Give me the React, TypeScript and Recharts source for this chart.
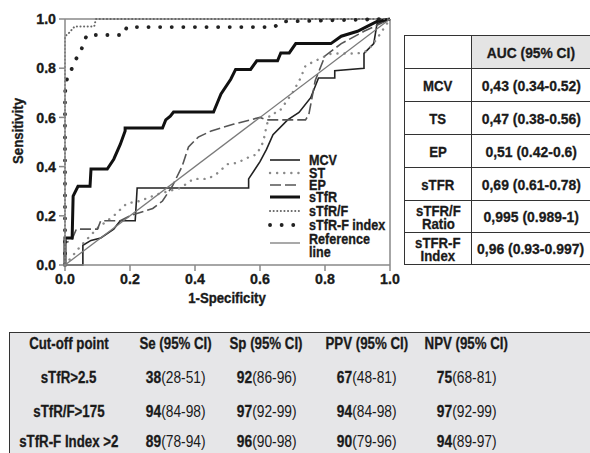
import React from 'react';
import { LineChart, Line, XAxis, YAxis, ReferenceLine } from 'recharts';

// ROC curve points [1-specificity, sensitivity]
const mcvPoints = [
  [0, 0], [0.055, 0], [0.055, 0.08], [0.08, 0.1], [0.11, 0.11], [0.15, 0.146], [0.17, 0.18],
  [0.216, 0.18], [0.222, 0.313], [0.565, 0.313], [0.565, 0.35], [0.6, 0.42], [0.62, 0.47],
  [0.64, 0.53], [0.685, 0.59], [0.72, 0.62], [0.756, 0.68], [0.78, 0.76], [0.83, 0.76],
  [0.83, 0.79], [0.92, 0.8], [0.92, 0.86], [0.95, 0.9], [0.96, 0.98], [1, 1],
];
const stPoints = [
  [0, 0], [0.05, 0.08], [0.1, 0.15], [0.15, 0.2], [0.19, 0.25], [0.23, 0.26], [0.29, 0.29],
  [0.355, 0.313], [0.395, 0.35], [0.44, 0.35], [0.47, 0.374], [0.5, 0.41], [0.53, 0.415],
  [0.56, 0.435], [0.59, 0.45], [0.61, 0.5], [0.62, 0.565], [0.63, 0.61], [0.66, 0.625],
  [0.7, 0.7], [0.725, 0.76], [0.74, 0.81], [0.77, 0.83], [0.82, 0.86], [0.9, 0.86],
  [0.93, 0.87], [0.96, 0.92], [1, 1],
];
const epPoints = [
  [0, 0], [0, 0.09], [0.02, 0.1], [0.035, 0.146], [0.1, 0.146], [0.11, 0.18], [0.17, 0.18],
  [0.2, 0.2], [0.27, 0.23], [0.3, 0.26], [0.33, 0.32], [0.36, 0.4], [0.38, 0.48], [0.41, 0.52],
  [0.45, 0.545], [0.52, 0.573], [0.6, 0.6], [0.62, 0.59], [0.74, 0.59], [0.75, 0.61],
  [0.77, 0.75], [0.8, 0.85], [0.85, 0.9], [0.92, 0.95], [1, 1],
];
const stfrPoints = [
  [0, 0], [0, 0.11], [0.022, 0.11], [0.025, 0.28], [0.04, 0.32], [0.077, 0.32], [0.08, 0.39],
  [0.13, 0.39], [0.15, 0.43], [0.17, 0.49], [0.185, 0.545], [0.185, 0.557], [0.3, 0.557],
  [0.31, 0.59], [0.324, 0.605], [0.334, 0.622], [0.457, 0.622], [0.48, 0.695], [0.51, 0.755],
  [0.525, 0.795], [0.571, 0.795], [0.59, 0.83], [0.654, 0.83], [0.664, 0.862], [0.69, 0.862],
  [0.71, 0.9], [0.818, 0.9], [0.85, 0.93], [0.9, 0.95], [0.93, 0.97], [0.96, 0.99], [1, 1],
];
const stfrRatioPoints = [
  [0, 0], [0, 0.93], [0.01, 0.94], [0.03, 0.97], [0.09, 0.97], [0.095, 1], [1, 1],
];
const stfrIndexPoints = [
  [0, 0], [0, 0.7], [0.006, 0.755], [0.02, 0.795], [0.03, 0.83], [0.046, 0.86], [0.057, 0.9],
  [0.067, 0.935], [0.18, 0.935], [0.19, 0.967], [0.643, 0.967], [0.67, 0.99], [1, 1],
];
const referencePoints = [[0, 0], [1, 1]];

const axisTicks = [0, 0.2, 0.4, 0.6, 0.8, 1];

// AUC table
const aucLabels = ['MCV', 'TS', 'EP', 'sTFR', 'sTFR/F\nRatio', 'sTFR-F\nIndex'];
const aucValues = [
  '0,43 (0.34-0.52)', '0,47 (0.38-0.56)', '0,51 (0.42-0.6)',
  '0,69 (0.61-0.78)', '0,995 (0.989-1)', '0,96 (0.93-0.997)',
];

// cut-off table
const cutoffHeaders = ['Cut-off point', 'Se (95% CI)', 'Sp (95% CI)', 'PPV (95% CI)', 'NPV (95% CI)'];
const cutoffPoints = ['sTfR>2.5', 'sTfR/F>175', 'sTfR-F Index >2'];
const seValues = [['38', '(28-51)'], ['94', '(84-98)'], ['89', '(78-94)']];
const spValues = [['92', '(86-96)'], ['97', '(92-99)'], ['96', '(90-98)']];
const ppvValues = [['67', '(48-81)'], ['94', '(84-98)'], ['90', '(79-96)']];
const npvValues = [['75', '(68-81)'], ['97', '(92-99)'], ['94', '(89-97)']];

const FONT = '"Liberation Sans", Arial, sans-serif';
const INK = '#1a1a1a';

const toXY = (pts: number[][]) => pts.map(([x, y]) => ({ x, y }));

const series = [
  { name: 'MCV', points: mcvPoints, stroke: '#222', width: 1.6, dash: undefined, cap: 'butt' },
  { name: 'ST', points: stPoints, stroke: '#8a8a8a', width: 2.4, dash: '0.1 7', cap: 'round' },
  { name: 'EP', points: epPoints, stroke: '#555', width: 1.6, dash: '11 4', cap: 'butt' },
  { name: 'sTfR', points: stfrPoints, stroke: '#111', width: 3, dash: undefined, cap: 'butt' },
  { name: 'sTfR/F', points: stfrRatioPoints, stroke: '#666', width: 2, dash: '0.1 3.5', cap: 'round' },
  { name: 'sTfR-F index', points: stfrIndexPoints, stroke: '#222', width: 3.8, dash: '0.1 11.5', cap: 'round' },
  { name: 'Reference line', points: referencePoints, stroke: '#7a7a7a', width: 1.3, dash: undefined, cap: 'butt' },
];

// condensed-looking svg text (no narrow font installed, so squeeze horizontally)
const SvgText = ({ x, y, children, anchor = 'middle', size = 15, sx = 0.85, rotate = 0 }: any) => (
  <g transform={`translate(${x},${y}) rotate(${rotate}) scale(${sx},1)`}>
    <text x={0} y={0} textAnchor={anchor} dominantBaseline="central" fontFamily={FONT}
      fontSize={size} fontWeight={700} fill={INK} stroke={INK} strokeWidth={0.35}>{children}</text>
  </g>
);

// same idea for html text
const Narrow = ({ children, sx = 0.82, ws = 'nowrap' }: any) => (
  <span style={{ display: 'inline-block', transform: `scaleX(${sx})`, whiteSpace: ws }}>{children}</span>
);

const legendRows = [10, 23, 35, 47, 61, 75, 93];

const Legend = () => (
  <svg width={140} height={110} style={{ position: 'absolute', left: 266, top: 150 }}>
    {series.map((s, i) => (
      <g key={s.name}>
        <line x1={4} x2={34} y1={legendRows[i]} y2={legendRows[i]} stroke={s.stroke}
          strokeWidth={s.width} strokeDasharray={s.dash} strokeLinecap={s.cap as any} />
        {s.name === 'Reference line' ? (
          <>
            <SvgText x={43} y={89} anchor="start" size={15} sx={0.84}>Reference</SvgText>
            <SvgText x={43} y={102} anchor="start" size={15} sx={0.84}>line</SvgText>
          </>
        ) : (
          <SvgText x={43} y={legendRows[i]} anchor="start" size={15} sx={0.84}>{s.name}</SvgText>
        )}
      </g>
    ))}
  </svg>
);

const XTick = (p: any) => (
  <SvgText x={p.x} y={p.y + 6} size={15} sx={0.95}>{Number(p.payload.value).toFixed(1)}</SvgText>
);
const YTick = (p: any) => (
  <SvgText x={p.x} y={p.y} anchor="end" size={15} sx={0.95}>{Number(p.payload.value).toFixed(1)}</SvgText>
);

const cell: React.CSSProperties = {
  border: '1.5px solid #333',
  textAlign: 'center',
  fontFamily: FONT,
  fontWeight: 700,
  fontSize: 15,
  color: INK,
  padding: 0,
  lineHeight: '13px',
  WebkitTextStroke: '0.3px #1a1a1a',
};

const AucTable = () => (
  <table style={{ position: 'absolute', left: 404, top: 35, width: 186, borderCollapse: 'collapse', tableLayout: 'fixed' }}>
    <colgroup>
      <col style={{ width: 67 }} />
      <col style={{ width: 119 }} />
    </colgroup>
    <tbody>
      <tr style={{ height: 33 }}>
        <td style={cell}></td>
        <td style={{ ...cell, background: '#e4e4e4' }}><Narrow sx={0.92}>AUC (95% CI)</Narrow></td>
      </tr>
      {aucLabels.map((l, i) => (
        <tr key={l} style={{ height: i < 4 ? 33 : 32 }}>
          <td style={cell}><Narrow sx={0.88} ws="pre">{l}</Narrow></td>
          <td style={cell}><Narrow sx={0.93}>{aucValues[i]}</Narrow></td>
        </tr>
      ))}
    </tbody>
  </table>
);

const colCenters = [69, 176, 267, 367, 467];
const rowCenters = [344, 378, 412, 442];

const CutoffTable = () => {
  const columns = [seValues, spValues, ppvValues, npvValues];
  const txt: React.CSSProperties = {
    position: 'absolute', width: 140, marginLeft: -70, textAlign: 'center',
    fontFamily: FONT, fontSize: 16, color: INK, lineHeight: '20px', marginTop: -10,
    whiteSpace: 'nowrap',
  };
  const heavy: React.CSSProperties = { fontWeight: 700, WebkitTextStroke: '0.3px #1a1a1a' };
  return (
    <div style={{
      position: 'absolute', left: 9, top: 332, width: 600, height: 130,
      background: '#e6e6e8', borderTop: '1.5px solid #333', borderLeft: '1.5px solid #333',
    }}>
      <div style={{ position: 'absolute', left: -10.5, top: -333.5 }}>
        {cutoffHeaders.map((h, c) => (
          <div key={h} style={{ ...txt, ...heavy, left: colCenters[c], top: rowCenters[0] }}>
            <Narrow sx={0.83}>{h}</Narrow>
          </div>
        ))}
        {cutoffPoints.map((p, r) => (
          <React.Fragment key={p}>
            <div style={{ ...txt, ...heavy, left: colCenters[0], top: rowCenters[r + 1] }}>
              <Narrow sx={0.83}>{p}</Narrow>
            </div>
            {columns.map((col, c) => (
              <div key={c} style={{ ...txt, left: colCenters[c + 1], top: rowCenters[r + 1] }}>
                <Narrow sx={0.86}><b style={heavy}>{col[r][0]}</b>{col[r][1]}</Narrow>
              </div>
            ))}
          </React.Fragment>
        ))}
      </div>
    </div>
  );
};

export default function App() {
  return (
    <div style={{ position: 'absolute', left: 0, top: 0, width: 590, height: 453, background: '#fff', overflow: 'hidden' }}>
      <LineChart width={404} height={310} margin={{ top: 19, right: 14, left: 0, bottom: 0 }}>
        <XAxis
          type="number"
          dataKey="x"
          domain={[0, 1]}
          ticks={axisTicks}
          tick={XTick}
          tickSize={6}
          tickMargin={2}
          height={45}
          stroke="#888"
          strokeWidth={1.5}
          label={{ content: () => <SvgText x={227} y={298} size={15} sx={0.88}>1-Specificity</SvgText> }}
        />
        <YAxis
          type="number"
          dataKey="y"
          domain={[0, 1]}
          ticks={axisTicks}
          tick={YTick}
          tickSize={6}
          tickMargin={3}
          width={65}
          stroke="#888"
          strokeWidth={1.5}
          label={{ content: () => <SvgText x={18} y={131} size={15} sx={0.88} rotate={-90}>Sensitivity</SvgText> }}
        />
        <ReferenceLine y={1} stroke="#888" strokeWidth={1.5} />
        <ReferenceLine x={1} stroke="#888" strokeWidth={1.5} />
        {series.map((s) => (
          <Line
            key={s.name}
            data={toXY(s.points)}
            dataKey="y"
            type="linear"
            stroke={s.stroke}
            strokeWidth={s.width}
            strokeDasharray={s.dash}
            strokeLinecap={s.cap as any}
            dot={false}
            activeDot={false}
            isAnimationActive={false}
          />
        ))}
      </LineChart>
      <Legend />
      <AucTable />
      <CutoffTable />
    </div>
  );
}
